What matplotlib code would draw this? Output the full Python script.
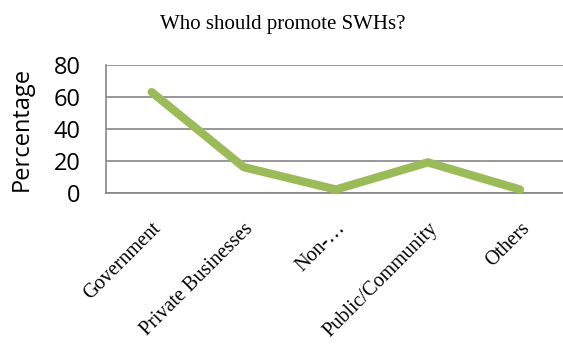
import matplotlib
matplotlib.use("Agg")
import matplotlib.pyplot as plt

# Survey responses: who should promote solar water heaters
categories = ["Government", "Private Businesses", "Non-\u2026", "Public/Community", "Others"]
percentages = [63, 16, 2, 19, 2]
y_ticks = [0, 20, 40, 60, 80]

grid_color = "#868686"
line_color = "#9BBB59"

fig = plt.figure(figsize=(5.63, 3.44), dpi=100)
ax = fig.add_axes([0.1877, 0.4398, 0.8176, 0.3712])

x = list(range(len(categories)))
ax.plot(x, percentages, color=line_color, linewidth=6,
        solid_capstyle="round", solid_joinstyle="round", clip_on=False, zorder=3)

ax.set_xlim(-0.5, len(categories) - 0.5)
ax.set_ylim(0, 80)
ax.set_yticks(y_ticks)
ax.set_yticklabels([str(v) for v in y_ticks], family="Open Sans", fontsize=17)
ax.yaxis.grid(True, color=grid_color, linewidth=1.2)
ax.set_axisbelow(True)

ax.set_xticks(x)
ax.set_xticklabels(categories, family="Liberation Serif", fontsize=14.5,
                   rotation=45, ha="right", rotation_mode="anchor")
ax.tick_params(axis="x", length=0, pad=19)
ax.tick_params(axis="y", length=0, pad=18)

for side in ["top", "right"]:
    ax.spines[side].set_visible(False)
for side in ["left", "bottom"]:
    ax.spines[side].set_color(grid_color)
    ax.spines[side].set_linewidth(1.2)

ax.set_ylabel("Percentage", family="Open Sans", fontsize=17, labelpad=14)

fig.text(0.503, 0.93, "Who should promote SWHs?", family="Liberation Serif",
         fontsize=15, ha="center", va="center")

fig.savefig("out.png", dpi=100)
